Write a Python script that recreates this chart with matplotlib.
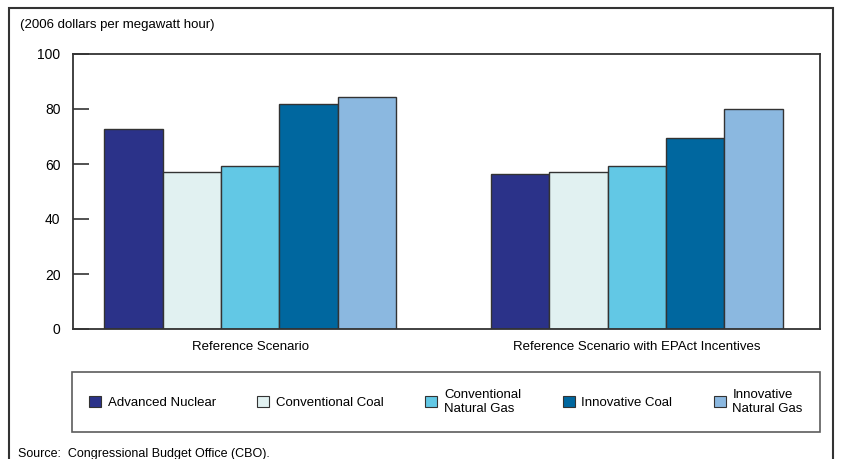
import matplotlib
matplotlib.use("Agg")
import matplotlib.pyplot as plt
from matplotlib.patches import Rectangle, Patch
import numpy as np

scenarios = ["Reference Scenario", "Reference Scenario with EPAct Incentives"]
technologies = ["Advanced Nuclear", "Conventional Coal", "Conventional\nNatural Gas",
                "Innovative Coal", "Innovative\nNatural Gas"]
advanced_nuclear = [72.7, 56.5]
conventional_coal = [57.1, 57.2]
conventional_gas = [59.3, 59.3]
innovative_coal = [81.8, 69.6]
innovative_gas = [84.4, 80.1]
colors = ["#2B3289", "#E1F1F1", "#62C8E5", "#00679F", "#8BB8E0"]
yticks = [0, 20, 40, 60, 80, 100]

series = [advanced_nuclear, conventional_coal, conventional_gas, innovative_coal, innovative_gas]

plt.rcParams["font.family"] = ["Liberation Sans", "DejaVu Sans"]

fig = plt.figure(figsize=(8.41, 4.59), dpi=100)
W, H = 841, 459
ax = fig.add_axes([73 / W, 1 - 329 / H, (820 - 73) / W, (329 - 54) / H])

x = np.arange(len(scenarios))
bw = 0.151
for i, (vals, c) in enumerate(zip(series, colors)):
    ax.bar(x + (i - 2) * bw, vals, width=bw, color=c, edgecolor="#333333", linewidth=1.0,
           label=technologies[i], zorder=2)

ax.set_xlim(-0.458, 1.474)
ax.set_ylim(0, 100)
ax.set_yticks(yticks)
ax.set_yticklabels([str(t) for t in yticks], fontsize=10)
ax.tick_params(axis="y", direction="in", length=11.5, width=1.2, color="#333333", pad=9)
ax.set_xticks(x)
ax.set_xticklabels(scenarios, fontsize=9.5)
ax.tick_params(axis="x", length=0, pad=9)
for s in ax.spines.values():
    s.set_color("#333333")
    s.set_linewidth(1.3)

fig.text(20 / W, 1 - 25 / H, "(2006 dollars per megawatt hour)", fontsize=9.5, va="center", ha="left")

handles = [Patch(facecolor=c, edgecolor="#333333", linewidth=0.8) for c in colors]
leg = fig.legend(handles, technologies, loc="lower left", ncol=5, mode="expand",
                 bbox_to_anchor=(72 / W, 1 - 432 / H, (820 - 72) / W, 57 / H),
                 frameon=True, fancybox=False, prop={"size": 9.5},
                 handlelength=0.9, handleheight=0.9, handletextpad=0.5, borderpad=1.3,
                 borderaxespad=0)
leg.get_frame().set_edgecolor("#333333")
leg.get_frame().set_linewidth(1.2)

fig.add_artist(Rectangle((9 / W, -0.05), (833 - 9) / W, (1 - 8 / H) + 0.05,
                         transform=fig.transFigure, fill=False, edgecolor="#333333", linewidth=1.5))

fig.text(18 / W, 1 - 454 / H, "Source:  Congressional Budget Office (CBO).", fontsize=9,
         va="center", ha="left")

fig.savefig("out.png", dpi=100)
